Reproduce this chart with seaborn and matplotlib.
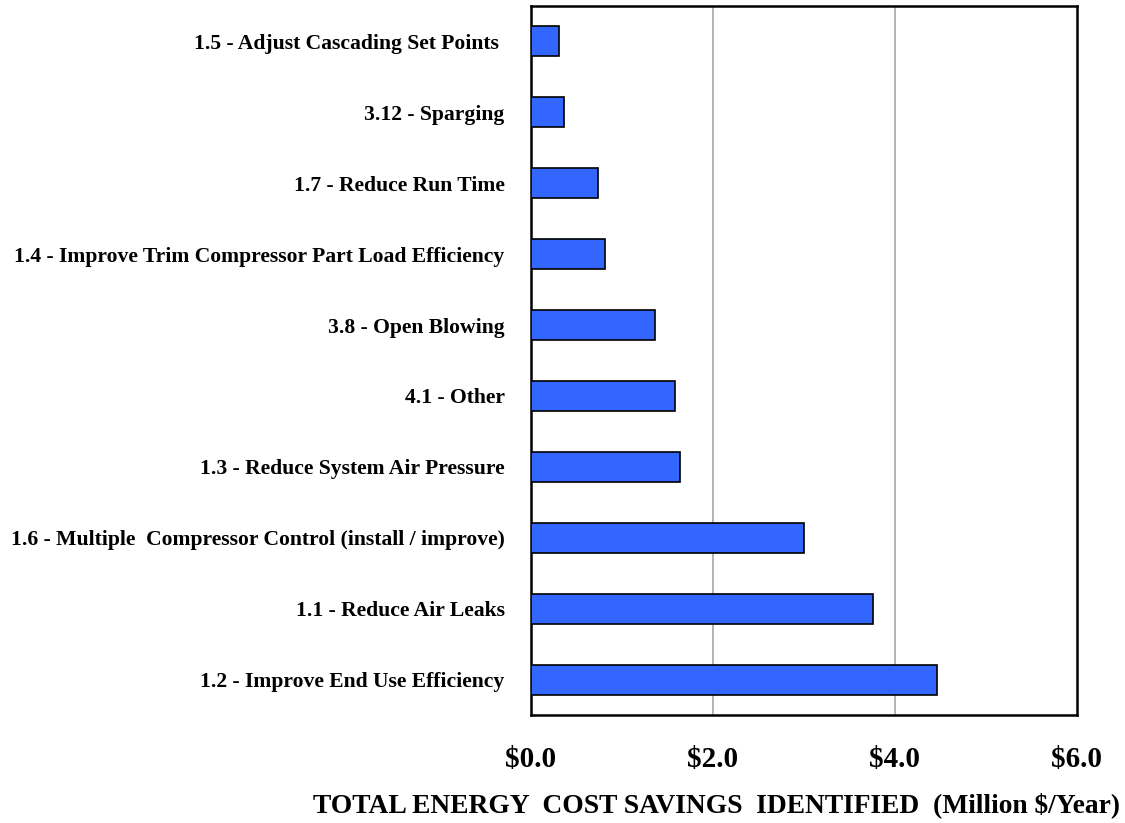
import matplotlib
matplotlib.use("Agg")
import matplotlib.pyplot as plt
from matplotlib.ticker import FixedLocator, FuncFormatter
import seaborn as sns
import pandas as pd
import numpy as np

# Savings opportunities, listed top to bottom
measures = [
    "1.5 - Adjust Cascading Set Points ",
    "3.12 - Sparging",
    "1.7 - Reduce Run Time",
    "1.4 - Improve Trim Compressor Part Load Efficiency",
    "3.8 - Open Blowing",
    "4.1 - Other",
    "1.3 - Reduce System Air Pressure",
    "1.6 - Multiple  Compressor Control (install / improve)",
    "1.1 - Reduce Air Leaks",
    "1.2 - Improve End Use Efficiency",
]
savings = [0.31, 0.36, 0.74, 0.81, 1.36, 1.58, 1.64, 3.00, 3.76, 4.47]

x_major = [0.0, 2.0, 4.0, 6.0]
x_label = "TOTAL ENERGY  COST SAVINGS  IDENTIFIED  (Million \\$/Year)"

df = pd.DataFrame({"measure": measures, "savings": savings})

sns.set_style("white")
plt.rcParams["font.family"] = ["Liberation Serif", "DejaVu Serif"]
plt.rcParams["font.weight"] = "bold"
plt.rcParams["text.color"] = "black"
plt.rcParams["xtick.color"] = "black"
plt.rcParams["ytick.color"] = "black"
plt.rcParams["axes.labelcolor"] = "black"

fig = plt.figure(figsize=(11.25, 8.23), dpi=100)
ax = fig.add_axes([0.472, 0.131, 0.485, 0.862])

sns.barplot(data=df, x="savings", y="measure", orient="h", color="#3366FF",
            saturation=1, width=0.42, edgecolor="black", linewidth=1.2,
            ax=ax, zorder=3)

ax.set_xlim(0, 6)
ax.set_ylim(len(measures) - 0.5, -0.5)

# vertical reference lines
for gx in [2.0, 4.0]:
    ax.axvline(gx, color="#a6a6a6", linewidth=1.2, zorder=1)

# x ticks: labelled majors plus small inward minors every 0.4
ax.xaxis.set_major_locator(FixedLocator(x_major))
ax.xaxis.set_major_formatter(FuncFormatter(lambda v, p: f"${v:.1f}"))
ax.xaxis.set_minor_locator(FixedLocator(np.arange(0, 6.01, 0.4)))
ax.tick_params(axis="x", which="major", direction="in", length=8, width=1.5,
               pad=22, labelsize=21, labelcolor="black")
ax.tick_params(axis="x", which="minor", direction="in", length=5, width=1.2)
for t in ax.get_xticklabels():
    t.set_fontweight("bold")

# y ticks: category separators on the left, labels without ticks
ax.yaxis.set_minor_locator(FixedLocator(np.arange(-0.5, len(measures), 1.0)))
ax.tick_params(axis="y", which="major", length=0, pad=19, labelsize=15.6,
               labelcolor="black")
ax.tick_params(axis="y", which="minor", direction="out", length=5, width=1.5,
               color="#333333")
for t in ax.get_yticklabels():
    t.set_fontweight("bold")

ax.set_ylabel("")
ax.set_xlabel(x_label, fontsize=19.8, fontweight="bold", color="black")
ax.xaxis.set_label_coords(0.340, -0.108)

for side in ["left", "right", "top", "bottom"]:
    ax.spines[side].set_visible(True)
    ax.spines[side].set_color("black")
    ax.spines[side].set_linewidth(1.8)

fig.savefig("out.png", dpi=100, facecolor="white")
